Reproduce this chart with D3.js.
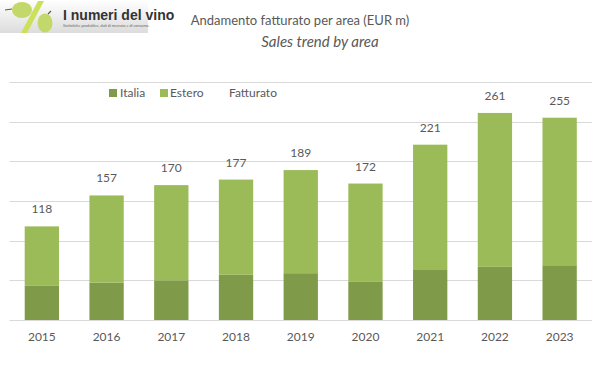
<!DOCTYPE html>
<html>
<head>
<meta charset="UTF-8">
<title>Andamento fatturato per area</title>
<style>
    body { margin: 0; background: #fff; }
    text { font-family: Lato, "Open Sans", sans-serif; fill: #595959; }
    .title { font-size: 13px; text-anchor: middle; }
    .subtitle { font-size: 15px; font-style: italic; text-anchor: middle; }
    .label { font-size: 12px; text-anchor: middle; }
    .legend { font-size: 12px; }
    .axis text { font-size: 12px; }
</style>
<script src="https://d3js.org/d3.v7.min.js"></script>
</head>
<body>
<div id="chart"></div>
<script>
    const years = ["2015", "2016", "2017", "2018", "2019", "2020", "2021", "2022", "2023"];
    const italia = [43, 47, 50, 57, 59, 48, 63, 67, 69];
    const totale = [118, 157, 170, 177, 189, 172, 221, 261, 255];
    const estero = totale.map((t, i) => t - italia[i]);
    const gridTicks = [0, 50, 100, 150, 200, 250, 300];

    const W = 603, H = 370;
    const svg = d3.select("#chart").append("svg")
        .attr("width", W).attr("height", H);

    // logo
    const defs = svg.append("defs");
    const grad = defs.append("linearGradient").attr("id", "logoBg")
        .attr("x1", 0).attr("y1", 0).attr("x2", 0).attr("y2", 1);
    grad.append("stop").attr("offset", "0%").attr("stop-color", "#ffffff");
    grad.append("stop").attr("offset", "100%").attr("stop-color", "#dcdcdc");
    const logo = svg.append("g");
    logo.append("rect").attr("x", 0).attr("y", 0).attr("width", 148).attr("height", 33)
        .attr("fill", "url(#logoBg)");
    logo.append("path").attr("d", "M38,1 L44,1 L27,33 L21,33 Z").attr("fill", "#cde05a");
    logo.append("ellipse").attr("cx", 22).attr("cy", 10).attr("rx", 10).attr("ry", 8).attr("fill", "#c3d86a");
    logo.append("ellipse").attr("cx", 45).attr("cy", 23).attr("rx", 7.5).attr("ry", 9.5).attr("fill", "#c3d86a");
    logo.append("path").attr("d", "M12,9 L5,10 M48,14 L51,11").attr("stroke", "#6b5a3a").attr("stroke-width", 1.2);
    logo.append("text").attr("x", 63).attr("y", 20)
        .style("font-family", "'Liberation Sans Narrow', 'Liberation Sans', sans-serif")
        .style("font-weight", "bold").style("font-size", "14px").style("fill", "#333")
        .text("I numeri del vino");
    logo.append("text").attr("x", 63).attr("y", 27)
        .style("font-size", "3.8px").style("fill", "#666")
        .text("Statistiche produttive, dati di mercato e di consumo.");

    // titles
    svg.append("text").attr("class", "title").attr("x", 300).attr("y", 25)
        .text("Andamento  fatturato per area (EUR m)");
    svg.append("text").attr("class", "subtitle").attr("x", 320).attr("y", 47)
        .text("Sales trend by area");

    const x = d3.scaleBand().domain(years).range([9.5, 592]).paddingInner(0.47).paddingOuter(0.235);
    const y = d3.scaleLinear().domain([0, 300]).range([320, 82]);

    // gridlines
    svg.append("g").selectAll("line").data(gridTicks).join("line")
        .attr("x1", 9.5).attr("x2", 592)
        .attr("y1", d => Math.round(y(d)) + 0.5).attr("y2", d => Math.round(y(d)) + 0.5)
        .attr("stroke", "#d9d9d9").attr("stroke-width", 1);

    // bars
    const rows = years.map((yr, i) => ({ year: yr, italia: italia[i], estero: estero[i] }));
    const stack = d3.stack().keys(["italia", "estero"])(rows);
    const colors = { italia: "#7f9a48", estero: "#9bbb59" };
    svg.append("g").selectAll("g").data(stack).join("g")
        .attr("fill", d => colors[d.key])
        .selectAll("rect").data(d => d).join("rect")
        .attr("x", d => x(d.data.year))
        .attr("width", x.bandwidth())
        .attr("y", d => y(d[1]))
        .attr("height", d => y(d[0]) - y(d[1]));

    // totals
    svg.append("g").selectAll("text").data(years).join("text")
        .attr("class", "label")
        .attr("x", d => x(d) + x.bandwidth() / 2)
        .attr("y", (d, i) => y(totale[i]) - 13)
        .text((d, i) => totale[i]);

    // x axis
    const xAxis = svg.append("g").attr("class", "axis")
        .attr("transform", "translate(0,320)")
        .call(d3.axisBottom(x).tickSize(0).tickPadding(12));
    xAxis.select(".domain").remove();
    xAxis.selectAll("text").style("fill", "#595959");

    // legend
    const legend = svg.append("g");
    legend.append("rect").attr("x", 109).attr("y", 89).attr("width", 8).attr("height", 8).attr("fill", colors.italia);
    legend.append("text").attr("class", "legend").attr("x", 120).attr("y", 97).text("Italia");
    legend.append("rect").attr("x", 160).attr("y", 89).attr("width", 8).attr("height", 8).attr("fill", colors.estero);
    legend.append("text").attr("class", "legend").attr("x", 170).attr("y", 97).text("Estero");
    legend.append("text").attr("class", "legend").attr("x", 229).attr("y", 97).text("Fatturato");
</script>
</body>
</html>
